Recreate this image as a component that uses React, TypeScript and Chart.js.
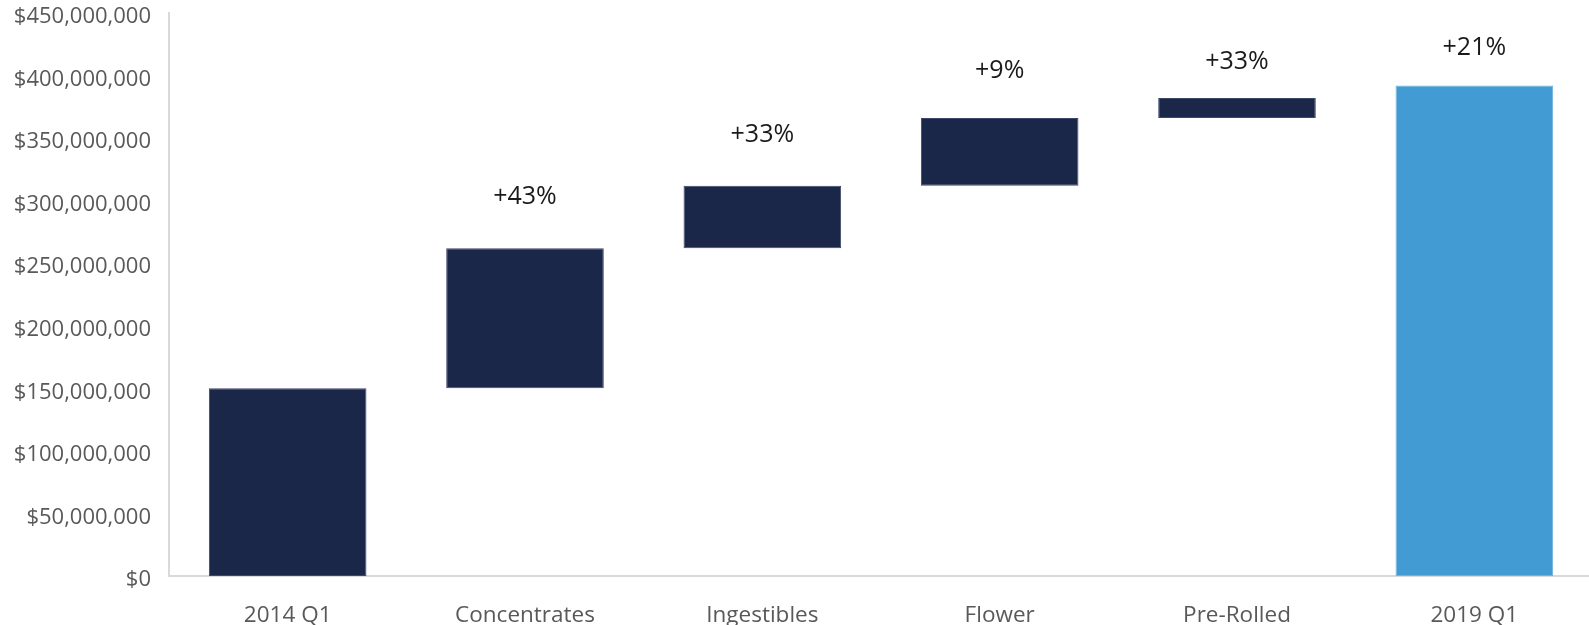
import React, { useEffect, useRef } from "react";
import { Chart, registerables } from "chart.js";

Chart.register(...registerables);

const categories = ["2014 Q1", "Concentrates", "Ingestibles", "Flower", "Pre-Rolled", "2019 Q1"];
const barStart = [0, 150000000, 262000000, 312000000, 366000000, 0];
const barEnd = [150000000, 262000000, 312000000, 366000000, 382000000, 392000000];
const changeLabels = ["", "+43%", "+33%", "+9%", "+33%", "+21%"];
const barColors = ["#1b2749", "#1b2749", "#1b2749", "#1b2749", "#1b2749", "#439bd3"];
const labelOffsets = [0, 51, 51, 47, 36, 38];

const FONT = "'Open Sans', 'Noto Sans', sans-serif";
const CANVAS_W = 1593;
const CANVAS_H = 625;

const labelPlugin = {
  id: "changeLabels",
  afterDatasetsDraw(chart: any) {
    const ctx = chart.ctx;
    const meta = chart.getDatasetMeta(0);
    ctx.save();
    ctx.font = `25px ${FONT}`;
    ctx.fillStyle = "#1a1a1a";
    ctx.textAlign = "center";
    ctx.textBaseline = "middle";
    meta.data.forEach((bar: any, i: number) => {
      const t = changeLabels[i];
      if (!t) return;
      const top = Math.min(bar.y, bar.base);
      ctx.fillText(t, bar.x, top - labelOffsets[i]);
    });
    ctx.restore();
  },
};

export default function App() {
  const ref = useRef<HTMLCanvasElement>(null);
  useEffect(() => {
    if (!ref.current) return;
    const chart = new Chart(ref.current, {
      type: "bar",
      data: {
        labels: categories,
        datasets: [
          {
            data: categories.map((_, i) => [barStart[i], barEnd[i]]) as any,
            backgroundColor: barColors,
            borderColor: barColors.map((c) => (c === "#439bd3" ? "#6db3e0" : "#3d4868")),
            borderWidth: 1,
            borderSkipped: false,
            barPercentage: 0.664,
            categoryPercentage: 1,
          },
        ],
      },
      options: {
        animation: false,
        responsive: false,
        maintainAspectRatio: false,
        layout: { padding: { left: 0, right: 0, top: 13, bottom: 0 } },
        plugins: { legend: { display: false }, tooltip: { enabled: false } },
        scales: {
          x: {
            offset: true,
            afterFit(scale: any) {
              scale.height = 49;
              scale.paddingLeft = 0;
              scale.paddingRight = 0;
              scale.paddingTop = 0;
              scale.paddingBottom = 0;
            },
            grid: { display: false, drawTicks: false },
            border: { display: true, color: "#d9d9d9", width: 2 },
            ticks: { color: "#595959", font: { family: FONT, size: 22.5 }, padding: 26, maxRotation: 0 },
          },
          y: {
            min: 0,
            max: 450000000,
            afterFit(scale: any) {
              scale.width = 169;
              scale.paddingTop = 0;
              scale.paddingBottom = 0;
            },
            grid: { display: false, drawTicks: false },
            border: { display: true, color: "#d9d9d9", width: 2 },
            ticks: {
              stepSize: 50000000,
              color: "#595959",
              font: { family: FONT, size: 22 },
              padding: 18,
              labelOffset: 4,
              callback: (v: any) => "$" + Number(v).toLocaleString("en-US"),
            },
          },
        },
      },
      plugins: [labelPlugin],
    });
    return () => chart.destroy();
  }, []);
  return (
    <div style={{ position: "fixed", left: 0, top: 0, width: 1589, height: 625, overflow: "hidden", background: "#fff" }}>
      <canvas ref={ref} width={CANVAS_W} height={CANVAS_H} style={{ width: CANVAS_W, height: CANVAS_H, display: "block" }} />
    </div>
  );
}
